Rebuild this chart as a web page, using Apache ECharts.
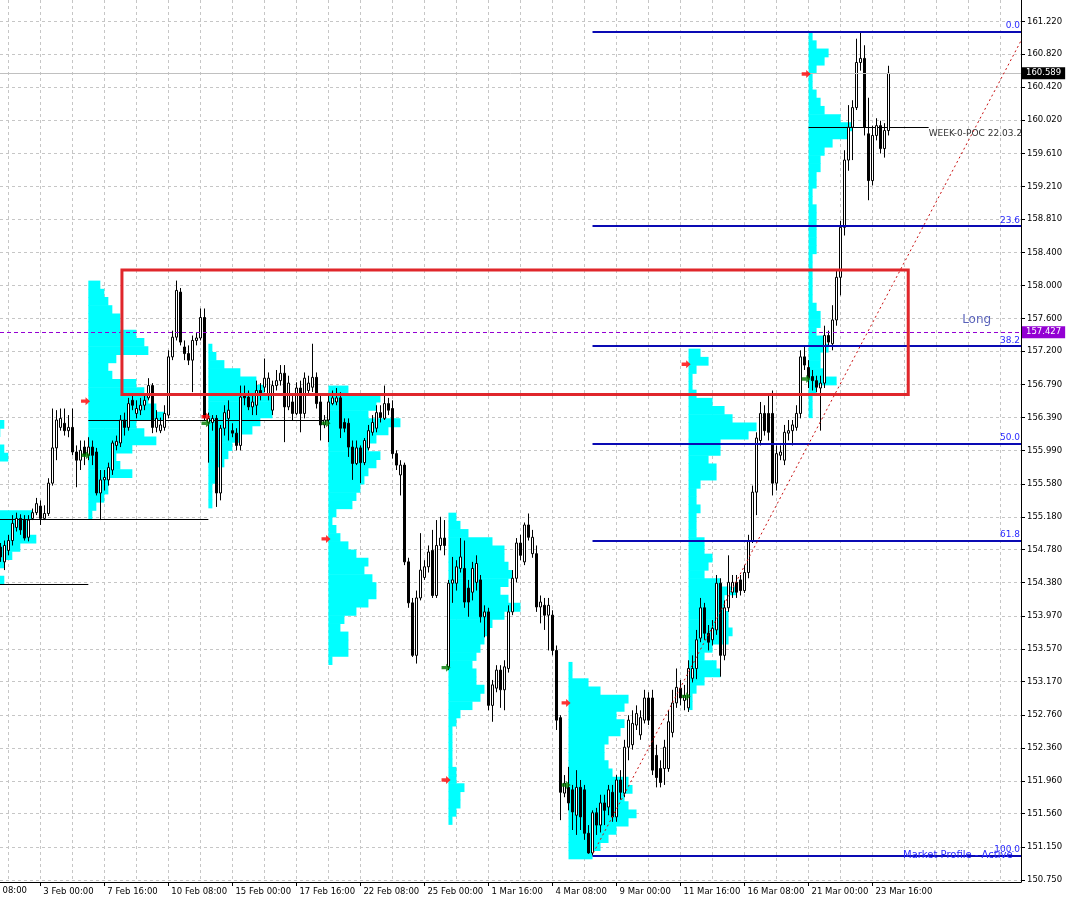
<!DOCTYPE html>
<html><head><meta charset="utf-8">
<script src="https://cdn.jsdelivr.net/npm/echarts@6/dist/echarts.min.js"></script>
<style>html,body{margin:0;padding:0;background:#fff;}#c{width:1067px;height:900px;}</style>
</head><body><div id="c"></div>
<script>
// ---------- DATA ----------
const firstBar = 6; // bar index of first candle (4h bars)
// [open, close, low, high]
const ohlc = [
[154.81,154.69,154.63,154.86],[154.63,154.83,154.53,154.89],[154.77,154.89,154.71,154.96],[154.89,155.10,154.83,155.20],
[155.05,155.16,155.00,155.23],[155.16,155.02,154.96,155.21],[155.14,154.92,154.89,155.20],[154.93,155.14,154.88,155.20],
[155.16,155.23,155.14,155.28],[155.23,155.34,155.20,155.41],[155.31,155.16,155.08,155.38],[155.16,155.22,155.14,155.32],
[155.22,155.59,155.19,155.65],[155.59,156.02,155.56,156.50],[156.02,156.36,155.87,156.48],[156.27,156.38,156.23,156.50],
[156.32,156.23,156.17,156.50],[156.23,156.27,156.15,156.42],[156.27,155.97,155.93,156.50],[155.97,155.87,155.54,156.05],
[155.87,155.99,155.75,156.11],[156.03,155.93,155.81,156.11],[155.93,156.03,155.87,156.15],[156.03,155.93,155.81,156.11],
[155.97,155.47,155.44,156.02],[155.47,155.63,155.14,155.75],[155.63,155.66,155.50,155.75],[155.63,155.78,155.56,155.84],
[155.75,156.08,155.69,156.11],[156.05,156.10,155.99,156.17],[156.08,156.36,156.03,156.42],[156.36,156.27,156.17,156.45],
[156.27,156.56,156.23,156.63],[156.60,156.54,156.48,156.66],[156.44,156.50,156.38,156.60],[156.48,156.54,156.42,156.63],
[156.54,156.60,156.48,156.66],[156.63,156.78,156.60,156.87],[156.78,156.27,156.20,156.81],[156.27,156.38,156.21,156.48],
[156.23,156.30,156.20,156.39],[156.27,156.44,156.23,156.54],[156.42,157.13,156.38,157.21],[157.13,157.37,157.09,157.45],
[157.37,157.94,157.33,158.06],[157.92,157.31,157.27,157.97],[157.25,157.17,157.09,157.33],[157.17,157.09,157.03,157.27],
[157.09,157.33,156.70,157.39],[157.33,157.36,157.27,157.42],[157.36,157.61,157.33,157.72],[157.61,156.39,156.36,157.72],
[156.33,156.38,155.84,156.45],[156.33,156.38,156.23,156.42],[156.38,155.47,155.30,156.42],[155.47,156.26,155.38,156.30],
[156.26,156.45,156.17,156.54],[156.38,156.48,156.11,156.60],[156.23,156.20,156.15,156.32],[156.20,156.05,155.99,156.26],
[156.05,156.64,155.99,156.78],[156.66,156.63,156.54,156.78],[156.64,156.52,156.48,156.72],[156.52,156.58,156.42,156.66],
[156.54,156.72,156.42,156.84],[156.72,156.66,156.60,156.81],[156.76,156.87,156.70,157.11],[156.68,156.87,156.60,156.94],
[156.48,156.78,156.42,156.84],[156.78,156.84,156.72,156.97],[156.84,156.93,156.78,157.03],[156.93,156.52,156.09,157.03],
[156.52,156.81,156.48,156.90],[156.58,156.44,156.36,156.66],[156.44,156.75,156.42,156.82],[156.75,156.44,156.21,156.84],
[156.44,156.87,156.38,156.94],[156.72,156.81,156.66,156.90],[156.76,156.88,156.70,157.29],[156.88,156.56,156.50,156.94],
[156.58,156.30,156.11,156.66],[156.30,156.36,156.26,156.42],[156.36,156.58,156.09,156.66],[156.56,156.63,156.54,156.72],
[156.58,156.63,156.54,156.75],[156.63,156.26,156.14,156.70],[156.33,156.26,156.21,156.38],[156.32,156.03,155.91,156.38],
[156.03,155.83,155.63,156.11],[155.83,156.02,155.81,156.11],[156.02,155.84,155.59,156.05],[155.84,156.11,155.81,156.14],
[156.02,156.23,155.99,156.30],[156.21,156.33,156.17,156.42],[156.26,156.45,156.21,156.54],[156.45,156.39,156.33,156.54],
[156.38,156.56,156.36,156.78],[156.56,156.48,156.42,156.63],[156.50,155.95,155.89,156.60],[155.95,155.81,155.75,155.99],
[155.69,155.81,155.44,155.87],[155.81,154.63,154.59,155.84],[154.63,154.13,154.07,154.68],[154.13,153.49,153.47,154.19],
[153.49,154.19,153.39,154.28],[154.19,154.53,154.16,154.98],[154.44,154.57,154.41,154.65],[154.57,154.75,154.50,154.83],
[154.77,154.22,154.19,155.02],[154.22,154.83,154.19,155.14],[154.83,154.92,154.77,155.18],[154.92,154.83,154.71,155.14],
[153.35,154.37,153.31,154.41],[154.37,154.41,154.13,154.69],[154.37,154.57,154.28,154.65],[154.55,154.69,154.50,154.92],
[154.55,154.14,154.07,154.89],[154.31,154.14,153.96,154.41],[154.26,154.55,154.16,154.63],[154.38,154.61,154.28,154.71],
[154.41,153.96,153.89,154.47],[153.96,154.02,153.71,154.10],[154.02,152.88,152.82,154.07],[152.88,153.13,152.68,153.19],
[153.09,153.31,153.04,153.37],[153.31,153.07,152.85,153.37],[153.07,153.35,152.82,153.43],[153.33,154.02,153.28,154.10],
[154.02,154.43,153.98,154.53],[154.43,154.86,154.38,154.92],[154.86,154.71,154.65,154.96],[154.63,155.08,154.59,155.11],
[155.08,154.93,154.89,155.22],[154.73,154.93,154.68,155.02],[154.73,154.08,154.02,154.83],[154.08,154.14,153.88,154.22],
[154.10,153.98,153.80,154.19],[153.98,154.10,153.55,154.19],[153.98,153.55,153.49,154.04],[153.55,152.70,152.58,153.61],
[152.73,151.82,151.48,152.76],[151.81,151.93,151.76,152.03],[151.88,151.69,151.60,152.13],[151.85,151.58,151.36,151.91],
[151.54,151.88,151.30,152.09],[151.88,151.52,151.36,151.97],[151.85,151.32,151.24,151.91],[151.32,151.08,151.07,151.42],
[151.08,151.57,151.05,151.60],[151.57,151.42,151.30,151.63],[151.42,151.69,151.33,151.79],[151.69,151.60,151.42,151.79],
[151.64,151.85,151.54,151.91],[151.82,151.52,151.46,151.91],[151.52,151.97,151.46,152.03],[151.97,151.82,151.73,152.09],
[151.81,152.37,151.76,152.46],[152.37,152.70,152.21,152.76],[152.40,152.66,152.34,152.82],[152.64,152.78,152.58,152.88],
[152.52,152.73,152.46,152.82],[152.70,152.97,152.66,153.07],[152.97,152.70,152.64,153.04],[152.97,152.09,152.03,153.07],
[152.27,152.00,151.88,152.40],[152.11,151.94,151.88,152.21],[152.11,152.37,151.91,152.46],[152.11,152.68,152.07,152.82],
[152.55,152.91,152.49,153.07],[152.91,153.10,152.85,153.33],[153.09,152.97,152.88,153.19],[152.94,153.00,152.82,153.13],
[152.85,153.33,152.80,153.43],[153.21,153.33,153.16,153.49],[153.33,153.68,153.20,153.80],[153.70,154.07,153.65,154.19],
[154.07,153.76,153.68,154.13],[153.76,153.65,153.55,153.86],[153.68,153.82,153.61,153.92],[153.80,154.37,153.74,154.47],
[154.37,153.49,153.23,154.43],[153.49,154.07,153.43,154.16],[154.07,154.38,154.02,154.71],[154.26,154.38,154.19,154.47],
[154.38,154.26,154.19,154.47],[154.41,154.28,154.22,154.47],[154.28,154.50,154.25,154.59],[154.50,154.89,154.43,154.96],
[154.89,155.48,154.86,155.56],[155.48,156.14,155.20,156.21],[156.11,156.44,156.05,156.58],[156.44,156.23,156.17,156.54],
[156.44,156.21,156.11,156.66],[156.44,155.59,155.44,156.72],[155.59,155.95,155.50,156.05],[155.93,155.97,155.87,156.05],
[155.87,156.21,155.81,156.30],[156.20,156.23,156.11,156.36],[156.23,156.30,156.05,156.36],[156.27,156.44,156.23,156.54],
[156.44,157.13,156.38,157.21],[157.13,157.03,156.97,157.27],[157.00,156.87,156.75,157.09],[156.89,156.84,156.72,156.97],
[156.84,156.76,156.70,156.90],[156.75,156.81,156.23,156.90],[156.81,157.39,156.75,157.51],[157.39,157.31,157.27,157.45],
[157.29,157.58,157.21,157.76],[157.58,158.10,157.51,158.19],[158.10,158.71,157.88,158.79],[158.71,159.53,158.61,159.65],
[159.53,159.93,159.40,160.20],[159.93,160.17,159.53,160.26],[160.17,160.72,160.14,161.01],[160.72,160.77,160.62,161.10],
[160.77,159.93,159.83,160.93],[159.85,159.28,159.04,160.29],[159.28,159.83,159.22,159.95],[159.83,159.95,159.77,160.04],
[159.95,159.67,159.61,160.01],[159.67,159.89,159.56,159.98],[159.89,160.589,159.83,160.68]
];
const xLabelBars = [16,32,48,64,80,96,112,128,144,160,176,192,208,224];
const xLabels = ['3 Feb 00:00','7 Feb 16:00','10 Feb 08:00','15 Feb 00:00','17 Feb 16:00','22 Feb 08:00','25 Feb 00:00',
  '1 Mar 16:00','4 Mar 08:00','9 Mar 00:00','11 Mar 16:00','16 Mar 08:00','21 Mar 00:00','23 Mar 16:00'];
const xGridBars = [8,16,24,32,40,48,56,64,72,80,88,96,104,112,120,128,136,144,152,160,168,176,184,192,200,208,216,224,232,240,248,256];
const yTicks = [161.22,160.82,160.42,160.02,159.61,159.21,158.81,158.40,158.00,157.60,157.20,156.79,156.39,155.99,155.58,
  155.18,154.78,154.38,153.97,153.57,153.17,152.76,152.36,151.96,151.56,151.15,150.75];

// weekly market profiles: start bar, top price, widths (bars) per 0.1 row downward
const profileStarts = [-2,28,58,88,118,148,178,208];
const profileTops = [156.36,158.06,157.29,156.78,155.23,153.41,157.23,161.09];
const profileRow = 0.1;
const profile1 = [9,8,7,9,10,6,5,5,6,7,7,16,15,15,17,13,11,9,7,9,5];
const profile2 = [3,4,5,6,8,8,12,14,15,7,5,6,12,14,15,17,19,12,14,17,11,7,8,11,5,5,4,2,1];
const profile3 = [1,2,4,8,12,14,16,16,16,13,11,8,6,5,4,2,2,1,1,1];
const profile4 = [5,13,12,10,18,15,12,10,13,12,10,9,8,7,6,2,1,2,3,5,7,10,9,11,12,12,10,7,4,3,5,5,5,1];
const profile5 = [2,3,5,11,14,14,15,16,15,13,15,18,14,11,10,9,8,7,6,7,7,9,8,6,3,2,1,1,1,1,1,2,2,4,3,3,2,1];
const profile6 = [1,1,5,8,15,14,12,14,13,10,9,9,10,11,15,16,14,15,17,15,12,10,8,6];
const profile7 = [3,5,2,1,1,2,6,9,11,17,15,8,8,5,7,7,3,2,2,3,2,2,2,4,4,6,5,4,8,12,9,9,10,10,11,10,6,4,7,8,4,2,1,1];
const profile8 = [1,2,5,4,2,1,1,2,3,4,8,11,10,6,4,3,3,2,2,1,1,2,2,2,2,2,2,1,1,1,1,1,1,2,3,3,2,4,5,3,3,4,7,2,1,1,1];

// POC lines [fromBar, toBar, price]
const pocLines = [[-2,28,154.36],[-2,58,155.15],[28,88,156.36]];
const weekPoc = [208,238,159.93];
const weekPocText = 'WEEK-0-POC 22.03.2022';

// fibonacci
const fibStartBar = 154;
const fibHigh = 161.10, fibLow = 151.05;
const fibLevels = [0.0,23.6,38.2,50.0,61.8,100.0];
// trend line
const trendLine = [[154.2,151.08],[261.35,161.01]];
// zone rectangle [bar1, priceTop, bar2, priceBottom]
const zoneRect = [36.4,158.19,232.9,156.67];
// signal arrows
const redArrows = [[27.3,156.59],[57.4,156.40],[87.4,154.91],[117.4,151.97],[147.4,152.91],[177.4,157.04],[207.4,160.58]];
const greenArrows = [[27.4,155.93],[57.4,156.32],[87.4,156.32],[117.4,153.34],[147.4,151.91],[177.4,152.99],[207.4,156.86]];
const lastPrice = 160.589;
const longPrice = 157.427;
const longLabelPos = [250.0,157.58];

// ---------- CHART ----------
const FONT = 'DejaVu Sans';
const TICK_FS = 8.5;
const xMin = 5.926, xMax = 261.08, yMin = 150.726, yMax = 161.482;
const candleData = ohlc.map((r,i)=>[firstBar+i, r[0], r[1], r[2], r[3]]);
const profiles = [profile1,profile2,profile3,profile4,profile5,profile6,profile7,profile8];
const profData = [];
profiles.forEach((w,k)=>w.forEach((v,i)=>profData.push([profileStarts[k], profileTops[k]-i*profileRow, v])));
const fibPrice = l => fibHigh - l/100*(fibHigh-fibLow);

const chart = echarts.init(document.getElementById('c'));
const gridLine = {show:true, lineStyle:{color:'#c6c6c6', type:[3,3], width:1}};
chart.setOption({
  animation:false,
  backgroundColor:'#ffffff',
  textStyle:{fontFamily:FONT},
  grid:{left:0, right:46, top:0, bottom:18, containLabel:false},
  xAxis:[
    {type:'value', min:xMin, max:xMax, axisLine:{show:true, lineStyle:{color:'#000'}},
     axisTick:{show:false, customValues:xGridBars}, axisLabel:{show:false}, splitLine:gridLine},
    {type:'value', min:xMin, max:xMax, position:'bottom', axisLine:{show:false},
     axisTick:{show:true, customValues:xLabelBars, length:4, lineStyle:{color:'#000'}},
     axisLabel:{show:true, customValues:xLabelBars, align:'left', margin:5, color:'#000', fontSize:TICK_FS, fontFamily:FONT,
       padding:[0,0,0,3], formatter:v=>{const i=xLabelBars.indexOf(Math.round(v)); return i>=0?xLabels[i]:'';}},
     splitLine:{show:false}}
  ],
  yAxis:{type:'value', position:'right', min:yMin, max:yMax,
    axisLine:{show:true, lineStyle:{color:'#000'}},
    axisTick:{show:true, customValues:yTicks, length:4, lineStyle:{color:'#000'}},
    axisLabel:{customValues:yTicks, color:'#000', fontSize:TICK_FS, fontFamily:FONT, margin:6, formatter:v=>v.toFixed(3)},
    splitLine:gridLine},
  series:[
    {type:'custom', name:'profiles', clip:true, z:1, data:profData, silent:true,
     renderItem:(params,api)=>{
       const p1=api.coord([api.value(0), api.value(1)]);
       const p2=api.coord([api.value(0)+api.value(2), api.value(1)-profileRow]);
       return {type:'rect', shape:{x:p1[0], y:p1[1], width:p2[0]-p1[0], height:p2[1]-p1[1]+0.6}, style:{fill:'#00ffff'}};
     }},
    {type:'custom', name:'poc', clip:true, z:2, data:pocLines, silent:true,
     renderItem:(params,api)=>{
       const a=api.coord([api.value(0), api.value(2)]), b=api.coord([api.value(1), api.value(2)]);
       return {type:'line', shape:{x1:a[0], y1:Math.round(a[1])+0.5, x2:b[0], y2:Math.round(a[1])+0.5}, style:{stroke:'#000', lineWidth:1}};
     }},
    {type:'custom', name:'weekpoc', clip:true, z:2, data:[weekPoc], silent:true,
     renderItem:(params,api)=>{
       const a=api.coord([api.value(0), api.value(2)]), b=api.coord([api.value(1), api.value(2)]);
       const y=Math.round(a[1])+0.5;
       return {type:'group', children:[
         {type:'line', shape:{x1:a[0], y1:y, x2:b[0], y2:y}, style:{stroke:'#000', lineWidth:1}},
         {type:'text', x:b[0], y:y+2, style:{text:weekPocText, fill:'#333', font:'9px '+FONT, textVerticalAlign:'top', textAlign:'left'}}
       ]};
     }},
    {type:'line', name:'levels', data:[], z:3, silent:true,
     markLine:{silent:true, symbol:['none','none'], animation:false,
       data:[
         ...fibLevels.map(l=>[
           {coord:[fibStartBar, fibPrice(l)], lineStyle:{color:'#0a0ab4', width:2, type:'solid'},
            label:{show:true, position:'insideEndTop', formatter:l.toFixed(1), color:'#2a2aff', fontSize:9, fontFamily:FONT, distance:[1,1]}},
           {coord:[xMax, fibPrice(l)]}]),
         {yAxis:lastPrice, lineStyle:{color:'#c0c0c0', width:1, type:'solid'},
          label:{show:true, position:'end', formatter:lastPrice.toFixed(3), backgroundColor:'#000', color:'#fff',
            fontSize:TICK_FS, fontFamily:FONT, padding:[2,4,1,4], distance:1}},
         {yAxis:longPrice, lineStyle:{color:'#9400d3', width:1, type:[4,3]},
          label:{show:true, position:'end', formatter:longPrice.toFixed(3), backgroundColor:'#9400d3', color:'#fff',
            fontSize:TICK_FS, fontFamily:FONT, padding:[2,4,1,4], distance:1}}
       ]}},
    {type:'candlestick', name:'price', z:4, data:candleData, barWidth:3, encode:{x:0, y:[1,2,3,4]},
     itemStyle:{color:'#ffffff', color0:'#000000', borderColor:'#000000', borderColor0:'#000000', borderWidth:1}},
    {type:'line', name:'trend', z:5, data:trendLine, symbol:'none', silent:true, clip:true,
     lineStyle:{color:'#c81010', width:1, type:[2,3]}},
    {type:'custom', name:'zone', clip:true, z:6, data:[zoneRect], silent:true,
     renderItem:(params,api)=>{
       const a=api.coord([api.value(0), api.value(1)]), b=api.coord([api.value(2), api.value(3)]);
       return {type:'rect', shape:{x:a[0], y:a[1], width:b[0]-a[0], height:b[1]-a[1]}, style:{fill:'none', stroke:'#e0262b', lineWidth:3}};
     }},
    {type:'scatter', name:'sell', z:7, data:redArrows, symbol:'path://M0,2L4,2L4,0L8,3.5L4,7L4,5L0,5Z', symbolSize:[9,8],
     itemStyle:{color:'#ff0000'}, silent:true},
    {type:'scatter', name:'buy', z:7, data:greenArrows, symbol:'path://M0,2L4,2L4,0L8,3.5L4,7L4,5L0,5Z', symbolSize:[9,8],
     itemStyle:{color:'#007a00'}, silent:true},
    {type:'scatter', name:'long', z:7, data:[longLabelPos], symbolSize:0, silent:true,
     label:{show:true, position:'inside', formatter:'Long', color:'#2e3aa8', fontSize:12, fontFamily:FONT}}
  ],
  graphic:[
    {type:'text', x:27, y:886, style:{text:'31 Jan 08:00', fill:'#000', font:TICK_FS+'px '+FONT, textAlign:'right', textVerticalAlign:'top'}},
    {type:'text', x:903, y:850, z:100, style:{text:'Market Profile - Active', fill:'#2a2aff', font:'10px '+FONT, textVerticalAlign:'top'}}
  ]
});
</script></body></html>
